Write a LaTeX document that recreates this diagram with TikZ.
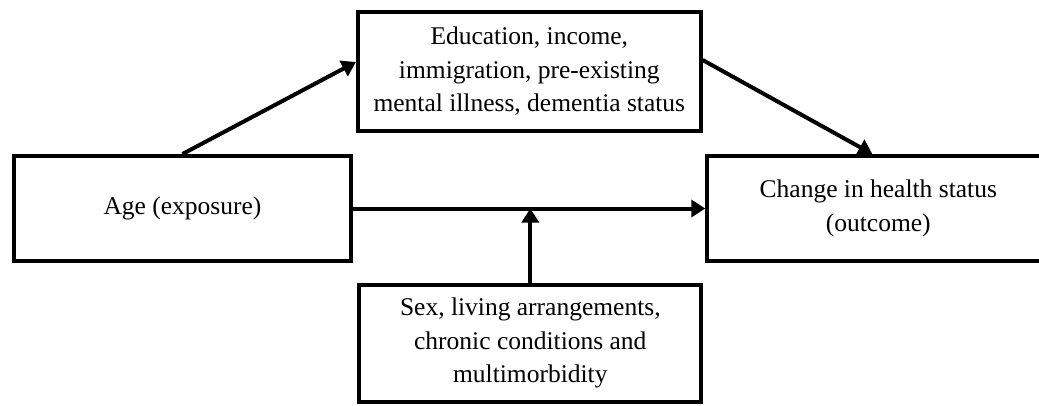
\documentclass[tikz,border=0pt]{standalone}
\usepackage{fontspec}
\setmainfont{Liberation Serif}
\usetikzlibrary{arrows.meta,calc}
\begin{document}
\begin{tikzpicture}[x=1pt,y=-1pt,
  box/.style={draw=black, line width=4pt, align=center, inner sep=0pt,
    font=\fontsize{25.5}{33.5}\selectfont},
  conn/.style={line width=4pt, -{Triangle[length=14pt,width=17pt]}},
  plain/.style={line width=4pt}]
\useasboundingbox (0,0) rectangle (1039,405);
\node[box, minimum width=337pt, minimum height=105pt] (age) at (182.5,208.5) {Age (exposure)};
\node[box, minimum width=342.7pt, minimum height=118.7pt] (med) at (529.3,71.3)
  {\raisebox{3pt}{\begin{tabular}{@{}c@{}}Education, income,\\immigration, pre-existing\\mental illness, dementia status\end{tabular}}};
\node[box, minimum width=342pt, minimum height=105pt] (out) at (878.3,208.5)
  {Change in health status\\(outcome)};
\node[box, minimum width=342pt, minimum height=117.3pt] (mod) at (530.3,343.3)
  {Sex, living arrangements,\\chronic conditions and\\multimorbidity};
\coordinate (medin) at ($(med.west)+(0,-9.3)$);
\coordinate (medout) at ($(med.east)+(0,-11.3)$);
\coordinate (outin) at ($(out.north)+(-6,0)$);
\coordinate (join) at (mod.north |- age.east);
\draw[conn] (age.north) -- (medin);
\draw[conn] (medout) -- (outin);
\draw[conn] (age.east) -- (out.west);
\draw[conn] (mod.north) -- (join);
\end{tikzpicture}
\end{document}
